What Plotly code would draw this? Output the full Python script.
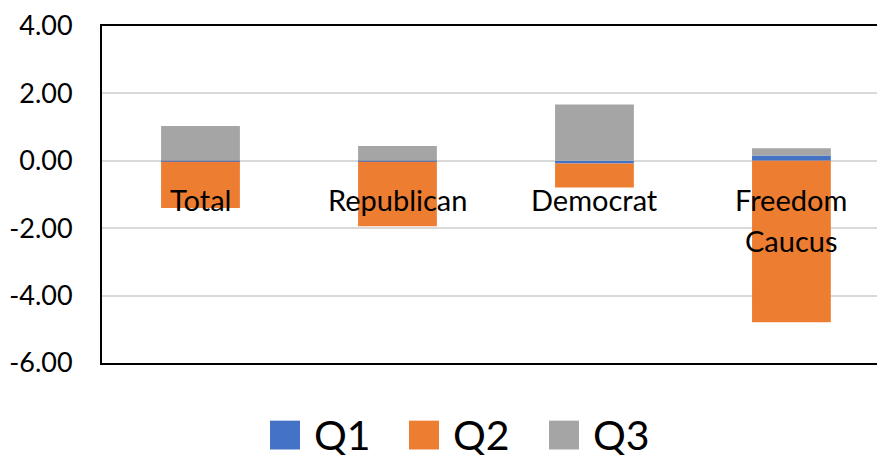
import plotly.graph_objects as go

categories = ["Total", "Republican", "Democrat", "Freedom Caucus"]
series_names = ["Q1", "Q2", "Q3"]
q1_values = [-0.03, -0.03, -0.08, 0.16]
q2_values = [-1.37, -1.91, -0.71, -4.79]
q3_values = [1.03, 0.44, 1.67, 0.21]
y_tick_values = [4, 2, 0, -2, -4, -6]
y_tick_labels = ["4.00", "2.00", "0.00", "-2.00", "-4.00", "-6.00"]
colors = ["#4472C4", "#ED7D31", "#A5A5A5"]

# the page body has an 8px default margin; compensate so the figure fills 885x455
OFF = 8
W, H = 885 - OFF, 455 - OFF
ML, MR, MT, MB = 102 - OFF, 0, 24 - OFF, 92
FONT = "Lato"

fig = go.Figure()
for name, vals, col in zip(series_names, [q1_values, q2_values, q3_values], colors):
    fig.add_trace(go.Bar(x=categories, y=vals, name=name, marker_color=col,
                         marker_line_width=0, showlegend=False))

# category labels drawn at the zero line (Excel "next to axis" style)
annotations = []
for c in categories:
    lines = c.split(" ") if c == "Freedom Caucus" else [c]
    for i, ln in enumerate(lines):
        annotations.append(dict(x=c, y=0, xref="x", yref="y", text=ln, showarrow=False,
                                yanchor="middle", yshift=-39 - 41 * i,
                                font=dict(family=FONT, size=29, color="#000000")))

# manual legend with large square symbols (pixel positions of the screenshot)
pw = W - ML - MR
ph = H - MT - MB
def px2x(px):
    return (px - OFF - ML) / pw
def py2y(py):
    return (H - MB - (py - OFF)) / ph

shapes = []
legend_sq_left = [270, 409, 549]
for name, col, sx in zip(series_names, colors, legend_sq_left):
    shapes.append(dict(type="rect", xref="paper", yref="paper",
                       x0=px2x(sx), x1=px2x(sx + 30), y0=py2y(450), y1=py2y(421),
                       fillcolor=col, line_width=0))
    annotations.append(dict(x=px2x(sx + 42), y=py2y(435), xref="paper", yref="paper",
                            text=name, showarrow=False, xanchor="left", yanchor="middle",
                            font=dict(family=FONT, size=41, color="#000000")))

fig.update_layout(
    width=W, height=H,
    margin=dict(l=ML, r=MR, t=MT, b=MB, pad=0),
    barmode="relative", bargap=0.6,
    plot_bgcolor="white", paper_bgcolor="white",
    font=dict(family=FONT, size=27, color="#000000"),
    showlegend=False,
    annotations=annotations, shapes=shapes,
)
fig.update_xaxes(range=[-0.5, 3.475], showticklabels=False, showgrid=False,
                 showline=True, mirror=True, linecolor="#000000", linewidth=2,
                 zeroline=False, ticks="")
fig.update_yaxes(range=[-6, 4], tickvals=y_tick_values, ticktext=y_tick_labels,
                 showgrid=True, gridcolor="#D9D9D9", gridwidth=1.5,
                 zeroline=True, zerolinecolor="#D9D9D9", zerolinewidth=1.5,
                 showline=True, linecolor="#000000", linewidth=2,
                 ticks="", ticklabelstandoff=22, ticklabeloverflow="allow",
                 tickfont=dict(family=FONT, size=27, color="#000000"))

fig.write_html("out.html")
